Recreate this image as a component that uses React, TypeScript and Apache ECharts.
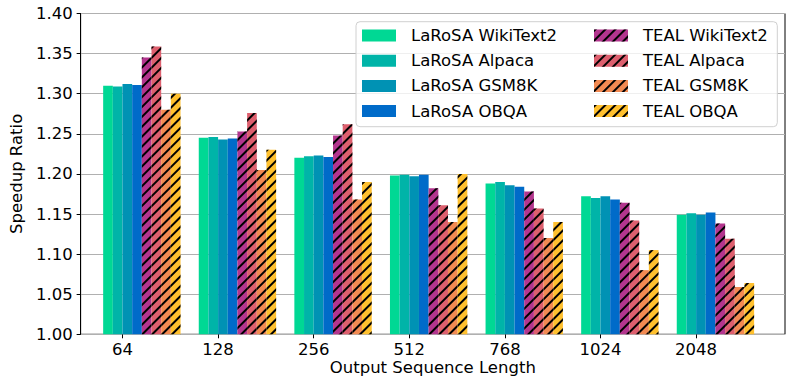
import React, { useEffect, useRef } from "react";
import * as echarts from "echarts";

const categories = ["64", "128", "256", "512", "768", "1024", "2048"];
const larosaWikiText2 = [1.310, 1.245, 1.220, 1.198, 1.188, 1.172, 1.149];
const larosaAlpaca = [1.309, 1.246, 1.222, 1.199, 1.190, 1.170, 1.151];
const larosaGSM8K = [1.312, 1.243, 1.223, 1.197, 1.186, 1.172, 1.149];
const larosaOBQA = [1.311, 1.244, 1.221, 1.199, 1.184, 1.168, 1.152];
const tealWikiText2 = [1.345, 1.253, 1.248, 1.182, 1.178, 1.164, 1.138];
const tealAlpaca = [1.359, 1.276, 1.262, 1.161, 1.157, 1.142, 1.119];
const tealGSM8K = [1.280, 1.205, 1.168, 1.140, 1.120, 1.080, 1.059];
const tealOBQA = [1.300, 1.230, 1.190, 1.200, 1.140, 1.105, 1.064];
const yTicks = { min: 1.0, max: 1.4, interval: 0.05 };

const larosaNames = ["LaRoSA WikiText2", "LaRoSA Alpaca", "LaRoSA GSM8K", "LaRoSA OBQA"];
const tealNames = ["TEAL WikiText2", "TEAL Alpaca", "TEAL GSM8K", "TEAL OBQA"];
const larosaData = [larosaWikiText2, larosaAlpaca, larosaGSM8K, larosaOBQA];
const tealData = [tealWikiText2, tealAlpaca, tealGSM8K, tealOBQA];
const larosaColors = ["#00D894", "#00B4A8", "#0092B4", "#006BC9"];
const tealColors = ["#B3358E", "#DD5F6E", "#F28A52", "#FFC02E"];

const FONT = "DejaVu Sans";
const FS = 16.5;
const BAR_W = 9.67;
const BAND = 95.6;
const FIRST_TICK = 122.5;

export default function App() {
  const ref = useRef<HTMLDivElement>(null);
  useEffect(() => {
    if (!ref.current) return;
    const chart = echarts.init(ref.current, null, { renderer: "svg" });
    const hatch = {
      symbol: "rect",
      symbolSize: 1,
      dashArrayX: [1, 0],
      dashArrayY: [1.1, 4.8],
      rotation: -Math.PI / 4,
      color: "#000",
    };
    const gridTop = 13.5;
    const gridHeight = 320.8;
    const real: any[] = [];
    larosaNames.forEach((n, i) =>
      real.push({
        type: "bar",
        name: n,
        xAxisIndex: 1,
        yAxisIndex: 1,
        barWidth: BAR_W,
        barGap: "0%",
        data: larosaData[i],
        itemStyle: { color: larosaColors[i] },
      })
    );
    tealNames.forEach((n, i) =>
      real.push({
        type: "bar",
        name: n,
        xAxisIndex: 1,
        yAxisIndex: 1,
        barWidth: BAR_W,
        barGap: "0%",
        data: tealData[i],
        itemStyle: { color: tealColors[i], decal: hatch },
      })
    );
    const legendBase = {
      orient: "vertical",
      top: 27,
      padding: 0,
      itemWidth: 34,
      itemHeight: 12,
      itemGap: 8.2,
      icon: "rect",
      selectedMode: false,
      textStyle: { fontSize: FS, fontFamily: FONT, color: "#000", padding: [0, 0, 0, 10] },
    };
    // tick sits between 2nd and 3rd bar of each group
    const groupCenterOffset = 2 * BAR_W;
    chart.setOption({
      animation: false,
      backgroundColor: "#fff",
      textStyle: { fontFamily: FONT },
      grid: [
        { left: 72, top: gridTop, width: 713, height: gridHeight, show: true, borderColor: "#000", borderWidth: 1, backgroundColor: "transparent" },
        { left: FIRST_TICK + groupCenterOffset - BAND / 2, top: gridTop, width: BAND * categories.length, height: gridHeight },
        { left: FIRST_TICK - BAND / 2, top: gridTop, width: BAND * categories.length, height: gridHeight },
      ],
      xAxis: [
        {
          gridIndex: 0,
          type: "value",
          min: 0,
          max: 1,
          axisLine: { show: false },
          axisTick: { show: false },
          axisLabel: { show: false },
          splitLine: { show: false },
          name: "Output Sequence Length",
          nameLocation: "middle",
          nameGap: 25,
          nameTextStyle: { fontSize: FS, color: "#000", fontFamily: FONT },
        },
        { gridIndex: 1, type: "category", data: categories, boundaryGap: true, show: false },
        {
          gridIndex: 2,
          type: "category",
          data: categories,
          boundaryGap: true,
          axisLine: { show: false },
          axisTick: { show: true, alignWithLabel: true, length: 4, lineStyle: { color: "#000" } },
          axisLabel: { fontSize: FS, color: "#000", fontFamily: FONT, margin: 7, interval: 0 },
          splitLine: { show: false },
        },
      ],
      yAxis: [
        {
          gridIndex: 0,
          type: "value",
          min: yTicks.min,
          max: yTicks.max,
          interval: yTicks.interval,
          axisLine: { show: true, lineStyle: { color: "#000" } },
          axisTick: { show: true, length: 4, lineStyle: { color: "#000" } },
          axisLabel: { fontSize: FS, color: "#000", fontFamily: FONT, margin: 8, formatter: (v: number) => v.toFixed(2) },
          splitLine: { show: true, lineStyle: { color: "#b0b0b0", width: 1 } },
          name: "Speedup Ratio",
          nameLocation: "middle",
          nameGap: 49,
          nameTextStyle: { fontSize: FS, color: "#000", fontFamily: FONT },
        },
        { gridIndex: 1, type: "value", min: yTicks.min, max: yTicks.max, show: false },
        { gridIndex: 2, type: "value", min: yTicks.min, max: yTicks.max, show: false },
      ],
      legend: [
        { ...legendBase, left: 362, data: larosaNames },
        { ...legendBase, left: 594, data: tealNames },
      ],
      graphic: [
        {
          type: "rect",
          z: 3,
          shape: { x: 356, y: 21.7, width: 421.3, height: 105, r: 4 },
          style: { fill: "rgba(255,255,255,0.8)", stroke: "#d0d0d0", lineWidth: 1 },
        },
      ],
      series: real,
    });
    return () => chart.dispose();
  }, []);
  return <div ref={ref} style={{ position: "fixed", left: 0, top: 0, width: 793, height: 385 }} />;
}
